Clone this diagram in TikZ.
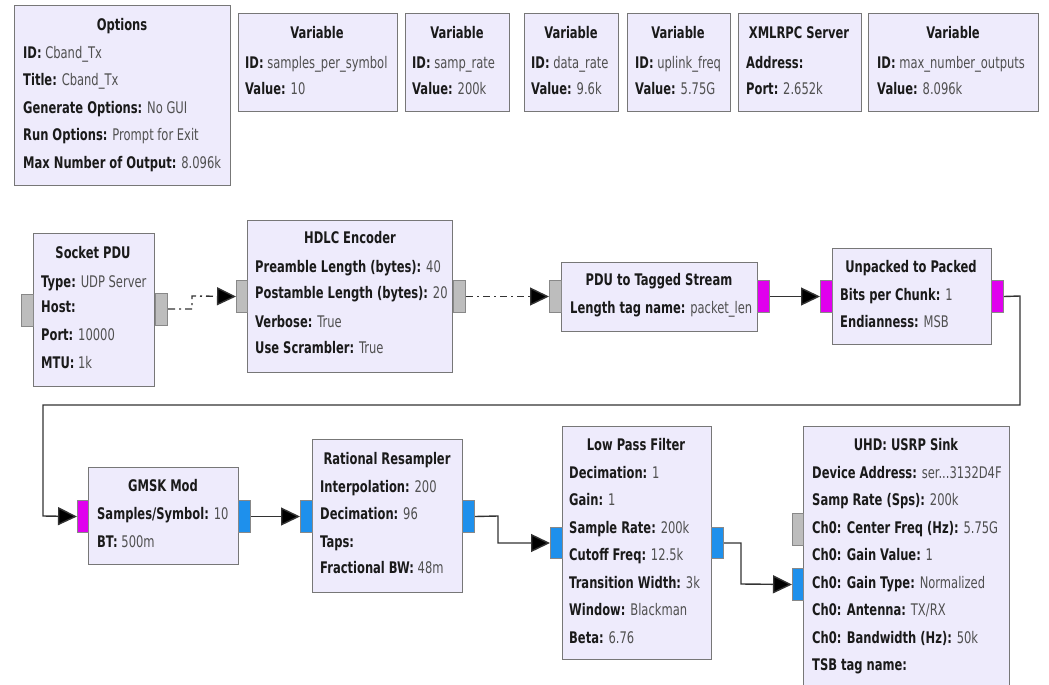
\documentclass[tikz,border=0pt]{standalone}
\usepackage{fontspec}
\setmainfont{DejaVu Sans}[FakeStretch=0.72]
\usetikzlibrary{arrows.meta}
\definecolor{blkfill}{HTML}{EEEBFC}
\definecolor{bordc}{HTML}{777777}
\definecolor{portgray}{HTML}{BDBDBD}
\definecolor{portbd}{HTML}{888888}
\definecolor{portmag}{HTML}{E000EE}
\definecolor{portblue}{HTML}{1E90EC}
\definecolor{txtc}{HTML}{1A1A1A}
\definecolor{valc}{HTML}{505050}
\definecolor{linec}{HTML}{333333}
\newcommand\fs{\fontsize{16}{18}\selectfont}
\newcommand\kv[2]{\textbf{\color{txtc}#1:} #2}
\newcommand\Blk[5]{\node[blk, anchor=north west, minimum width={#4-#2}, minimum height={#5-#3}] (#1) at (#2,#3) {};}
\newcommand\Prt[6]{\node[#2, anchor=north west, minimum width={#5-#3}, minimum height={#6-#4}] (#1) at (#3,#4) {};}
\tikzset{
  blk/.style={draw=bordc, fill=blkfill, line width=1.4pt, rectangle, inner sep=0pt},
  prtg/.style={draw=portbd, fill=portgray, line width=1pt, rectangle, inner sep=0pt},
  prtm/.style={prtg, fill=portmag},
  prtb/.style={prtg, fill=portblue},
  ttl/.style={font=\fs\bfseries, text=txtc, inner sep=0pt, anchor=mid, yshift=-2.5pt},
  lbl/.style={font=\fs, anchor=mid west, text=valc, inner sep=0pt, yshift=-2.5pt},
  conn/.style={draw=linec, line width=1.4pt, -{Triangle[length=19pt,width=18pt,fill=black]}},
  msg/.style={conn, dash pattern=on 7pt off 4pt on 2pt off 4pt},
}
\begin{document}
\begin{tikzpicture}[x=1pt,y=-1pt]
\useasboundingbox (0,0) rectangle (1049,685);
\clip (0,0) rectangle (1049,685);
% ---------- top row ----------
\Blk{opt}{14}{5}{230}{185}
\node[ttl] (optT) at (122,25) {Options};
\node[lbl] (opt1) at (23,53) {\kv{ID}{Cband\_Tx}};
\node[lbl] (opt2) at (23,80) {\kv{Title}{Cband\_Tx}};
\node[lbl] (opt3) at (23,108) {\kv{Generate Options}{No GUI}};
\node[lbl] (opt4) at (23,135) {\kv{Run Options}{Prompt for Exit}};
\node[lbl] (opt5) at (23,163) {\kv{Max Number of Output}{8.096k}};

\Blk{v1}{238}{13}{397}{111}
\node[ttl] (v1T) at (317,33) {Variable};
\node[lbl] (v11) at (245,63) {\kv{ID}{samples\_per\_symbol}};
\node[lbl] (v12) at (245,89) {\kv{Value}{10}};

\Blk{v2}{405}{13}{509}{111}
\node[ttl] (v2T) at (457,33) {Variable};
\node[lbl] (v21) at (412,63) {\kv{ID}{samp\_rate}};
\node[lbl] (v22) at (412,89) {\kv{Value}{200k}};

\Blk{v3}{524}{13}{618}{111}
\node[ttl] (v3T) at (571,33) {Variable};
\node[lbl] (v31) at (531,63) {\kv{ID}{data\_rate}};
\node[lbl] (v32) at (531,89) {\kv{Value}{9.6k}};

\Blk{v4}{627}{13}{730}{111}
\node[ttl] (v4T) at (678,33) {Variable};
\node[lbl] (v41) at (635,63) {\kv{ID}{uplink\_freq}};
\node[lbl] (v42) at (635,89) {\kv{Value}{5.75G}};

\Blk{xr}{738}{13}{861}{111}
\node[ttl] (xrT) at (799,33) {XMLRPC Server};
\node[lbl] (xr1) at (746,63) {\textbf{\color{txtc}Address:}};
\node[lbl] (xr2) at (746,89) {\kv{Port}{2.652k}};

\Blk{v5}{868}{13}{1038}{111}
\node[ttl] (v5T) at (953,33) {Variable};
\node[lbl] (v51) at (877,63) {\kv{ID}{max\_number\_outputs}};
\node[lbl] (v52) at (877,89) {\kv{Value}{8.096k}};

% ---------- second row ----------
\Blk{sock}{33}{233}{154}{386}
\node[ttl] (sockT) at (93,253) {Socket PDU};
\node[lbl] (sock1) at (41,282) {\kv{Type}{UDP Server}};
\node[lbl] (sock2) at (41,307) {\textbf{\color{txtc}Host:}};
\node[lbl] (sock3) at (41,335) {\kv{Port}{10000}};
\node[lbl] (sock4) at (41,363) {\kv{MTU}{1k}};
\Prt{sockI}{prtg}{21}{294}{33}{326}
\Prt{sockO}{prtg}{155}{293}{167}{325}

\Blk{hdlc}{247}{220}{452}{372}
\node[ttl] (hdlcT) at (350,238) {HDLC Encoder};
\node[lbl] (hdlc1) at (255,267) {\kv{Preamble Length (bytes)}{40}};
\node[lbl] (hdlc2) at (255,293) {\kv{Postamble Length (bytes)}{20}};
\node[lbl] (hdlc3) at (255,322) {\kv{Verbose}{True}};
\node[lbl] (hdlc4) at (255,348) {\kv{Use Scrambler}{True}};
\Prt{hdlcI}{prtg}{236}{280}{247}{312}
\Prt{hdlcO}{prtg}{453}{280}{465}{312}

\Blk{pdu}{561}{262}{757}{331}
\node[ttl] (pduT) at (659,280) {PDU to Tagged Stream};
\node[lbl] (pdu1) at (570,308) {\kv{Length tag name}{packet\_len}};
\Prt{pduI}{prtg}{549}{280}{561}{312}
\Prt{pduO}{prtm}{757}{280}{769}{312}

\Blk{unp}{832}{248}{991}{344}
\node[ttl] (unpT) at (911,267) {Unpacked to Packed};
\node[lbl] (unp1) at (840,295) {\kv{Bits per Chunk}{1}};
\node[lbl] (unp2) at (840,322) {\kv{Endianness}{MSB}};
\Prt{unpI}{prtm}{820}{280}{832}{312}
\Prt{unpO}{prtm}{991}{280}{1003}{312}

% ---------- third row ----------
\Blk{gmsk}{88}{467}{238}{564}
\node[ttl] (gmskT) at (163,486) {GMSK Mod};
\node[lbl] (gmsk1) at (97,514) {\kv{Samples/Symbol}{10}};
\node[lbl] (gmsk2) at (97,542) {\kv{BT}{500m}};
\Prt{gmskI}{prtm}{77}{500}{88}{532}
\Prt{gmskO}{prtb}{238}{500}{250}{532}

\Blk{rr}{312}{439}{462}{592}
\node[ttl] (rrT) at (387,459) {Rational Resampler};
\node[lbl] (rr1) at (320,487) {\kv{Interpolation}{200}};
\node[lbl] (rr2) at (320,514) {\kv{Decimation}{96}};
\node[lbl] (rr3) at (320,542) {\textbf{\color{txtc}Taps:}};
\node[lbl] (rr4) at (320,568) {\kv{Fractional BW}{48m}};
\Prt{rrI}{prtb}{300}{500}{312}{532}
\Prt{rrO}{prtb}{462}{500}{474}{532}

\Blk{lpf}{562}{426}{711}{659}
\node[ttl] (lpfT) at (636,445) {Low Pass Filter};
\node[lbl] (lpf1) at (569,473) {\kv{Decimation}{1}};
\node[lbl] (lpf2) at (569,500) {\kv{Gain}{1}};
\node[lbl] (lpf3) at (569,528) {\kv{Sample Rate}{200k}};
\node[lbl] (lpf4) at (569,555) {\kv{Cutoff Freq}{12.5k}};
\node[lbl] (lpf5) at (569,583) {\kv{Transition Width}{3k}};
\node[lbl] (lpf6) at (569,610) {\kv{Window}{Blackman}};
\node[lbl] (lpf7) at (569,638) {\kv{Beta}{6.76}};
\Prt{lpfI}{prtb}{550}{527}{562}{558}
\Prt{lpfO}{prtb}{711}{527}{723}{558}

\Blk{usrp}{803}{426}{1009}{705}
\node[ttl] (usrpT) at (906,445) {UHD: USRP Sink};
\node[lbl] (usrp1) at (812,473) {\kv{Device Address}{ser...3132D4F}};
\node[lbl] (usrp2) at (812,500) {\kv{Samp Rate (Sps)}{200k}};
\node[lbl] (usrp3) at (812,528) {\kv{Ch0: Center Freq (Hz)}{5.75G}};
\node[lbl] (usrp4) at (812,555) {\kv{Ch0: Gain Value}{1}};
\node[lbl] (usrp5) at (812,583) {\kv{Ch0: Gain Type}{Normalized}};
\node[lbl] (usrp6) at (812,610) {\kv{Ch0: Antenna}{TX/RX}};
\node[lbl] (usrp7) at (812,638) {\kv{Ch0: Bandwidth (Hz)}{50k}};
\node[lbl] (usrp8) at (812,665) {\textbf{\color{txtc}TSB tag name:}};
\Prt{usrpC}{prtg}{792}{513}{803}{545}
\Prt{usrpI}{prtb}{792}{568}{803}{600}

% ---------- connections ----------
\draw[msg] (sockO.east |- 0,309) -- (192,309) -- (192,296) -- (hdlcI.west);
\draw[msg] (hdlcO.east) -- (pduI.west);
\draw[conn] (pduO.east) -- (unpI.west);
\draw[conn] (unpO.east) -- (1020,296) -- (1020,405) -- (43,405) -- (43,516) -- (gmskI.west);
\draw[conn] (gmskO.east) -- (rrI.west);
\draw[conn] (rrO.east) -- (498,516) -- (498,543) -- (lpfI.west);
\draw[conn] (lpfO.east) -- (741,543) -- (741,584) -- (usrpI.west);
\end{tikzpicture}
\end{document}
